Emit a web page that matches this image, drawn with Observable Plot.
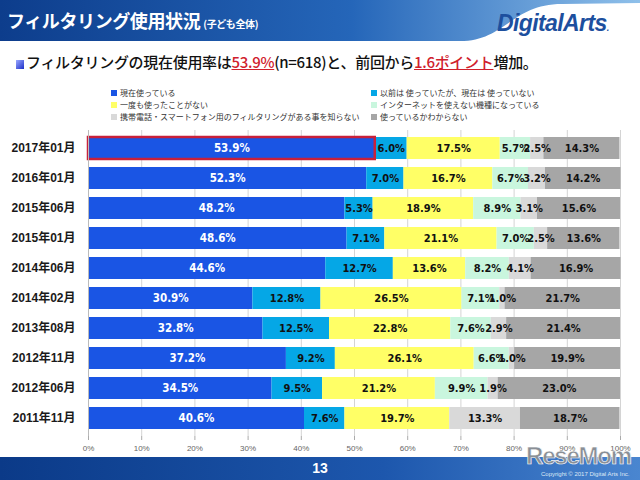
<!DOCTYPE html>
<html>
<head>
<meta charset="utf-8">
<script src="https://cdn.jsdelivr.net/npm/d3@7"></script>
<script src="https://cdn.jsdelivr.net/npm/@observablehq/plot@0.6"></script>
<style>
  html, body { margin: 0; padding: 0; background: #fff; }
  #page { position: relative; width: 640px; height: 480px; overflow: hidden; font-family: "Noto Sans CJK JP", "Liberation Sans", sans-serif; }
  #header { position: absolute; left: 0; top: 0; width: 640px; height: 44px; }
  #title { position: absolute; left: 7px; top: 7px; color: #fff; font-size: 18px; font-weight: bold; letter-spacing: -0.4px; white-space: nowrap; }
  #title small { font-size: 10px; font-weight: bold; margin-left: 3px; }
  #logo { position: absolute; left: 497px; top: 10px; color: #1d4f9e; font-family: "Liberation Sans", sans-serif; font-size: 23px; font-weight: bold; font-style: italic; letter-spacing: -0.6px; }
  #subtitle { position: absolute; left: 16px; top: 51px; font-size: 15px; font-weight: 500; color: #111; white-space: nowrap; letter-spacing: -0.3px; }
  #subtitle .sq { display: inline-block; width: 8px; height: 9px; background: linear-gradient(135deg, #9aa8ff, #1d2fc8); margin-right: 2px; vertical-align: -1px; }
  #subtitle .hl { color: #d0202c; text-decoration: underline; }
  #legend { position: absolute; left: 0; top: 87px; width: 640px; font-size: 8px; color: #333; }
  .li { position: absolute; white-space: nowrap; }
  .li i { display: inline-block; width: 6px; height: 6px; margin-right: 3px; vertical-align: 0px; }
  #chart { position: absolute; left: 0; top: 125px; }
  #footer { position: absolute; left: 0; top: 457px; width: 640px; height: 23px; background: linear-gradient(to right, #0b3a88, #1d57ad 60%, #4a86d0); }
  #pagenum { position: absolute; left: 0; width: 640px; top: 3px; text-align: center; color: #fff; font-size: 14px; font-weight: bold; font-family: "Liberation Sans", sans-serif; }
  #resemom { position: absolute; left: 526px; top: 442px; font-family: "Liberation Sans", sans-serif; font-size: 24px; font-weight: bold; color: #8a8f96; letter-spacing: -1.2px; -webkit-text-stroke: 0.6px #fff; }
  #copy { position: absolute; left: 541px; top: 471px; font-size: 6px; color: #dfe8f5; font-family: "Liberation Sans", sans-serif; white-space: nowrap; }
</style>
</head>
<body>
<div id="page">
  <svg id="header" width="640" height="44">
    <defs>
      <linearGradient id="hg" x1="0" x2="1" y1="0" y2="0">
        <stop offset="0" stop-color="#0d3d8c"/>
        <stop offset="0.55" stop-color="#2566b9"/>
        <stop offset="1" stop-color="#8fc0ea"/>
      </linearGradient>
    </defs>
    <rect x="0" y="0" width="640" height="41" fill="url(#hg)"/>
    <path d="M460,41 C505,41 512,4 562,4 L640,3 L640,44 L460,44 Z" fill="#fff"/>
  </svg>
  <div id="title">フィルタリング使用状況<small>(子ども全体)</small></div>
  <div id="logo">DigitalArts<span style="font-size:9px">.</span></div>
  <div id="subtitle"><span class="sq"></span>フィルタリングの現在使用率は<span class="hl">53.9%</span>(n=618)と、前回から<span class="hl">1.6ポイント</span>増加。</div>
  <div id="legend"></div>
  <div id="chart"></div>
  <div id="footer"><div id="pagenum">13</div></div>
  <div id="resemom">ReseMom</div>
  <div id="copy">Copyright © 2017 Digital Arts Inc.</div>
</div>
<script>
const periods = ["2017年01月","2016年01月","2015年06月","2015年01月","2014年06月","2014年02月","2013年08月","2012年11月","2012年06月","2011年11月"];
const categories = [
  "現在使っている",
  "以前は 使っていたが、現在は 使っていない",
  "一度も使ったことがない",
  "インターネットを使えない機種になっている",
  "携帯電話・スマートフォン用のフィルタリングがある事を知らない",
  "使っているかわからない"
];
const colors = ["#1a55e4", "#05a7e6", "#ffff66", "#c9f6de", "#d9d9d9", "#a6a6a6"];
const current    = [53.9, 52.3, 48.2, 48.6, 44.6, 30.9, 32.8, 37.2, 34.5, 40.6];
const previous   = [6.0, 7.0, 5.3, 7.1, 12.7, 12.8, 12.5, 9.2, 9.5, 7.6];
const never      = [17.5, 16.7, 18.9, 21.1, 13.6, 26.5, 22.8, 26.1, 21.2, 19.7];
const noInternet = [5.7, 6.7, 8.9, 7.0, 8.2, 7.1, 7.6, 6.6, 9.9, null];
const unaware    = [2.5, 3.2, 3.1, 2.5, 4.1, 1.0, 2.9, 1.0, 1.9, 13.3];
const unknown    = [14.3, 14.2, 15.6, 13.6, 16.9, 21.7, 21.4, 19.9, 23.0, 18.7];
const xTicks = [0, 10, 20, 30, 40, 50, 60, 70, 80, 90, 100];
const highlightPeriod = "2017年01月";

const series = [current, previous, never, noInternet, unaware, unknown];
const data = [];
periods.forEach((p, i) => {
  series.forEach((s, k) => {
    if (s[i] != null) data.push({period: p, category: categories[k], value: s[i]});
  });
});

// legend (two columns, three rows)
const legend = document.getElementById("legend");
const legendPos = [[0,0],[1,0],[0,1],[1,1],[0,2],[1,2]];
categories.forEach((c, k) => {
  const [col, row] = legendPos[k];
  const el = document.createElement("div");
  el.className = "li";
  el.style.left = (col === 0 ? 111 : 371) + "px";
  el.style.top = (row * 12) + "px";
  el.innerHTML = `<i style="background:${colors[k]}"></i>${c}`;
  legend.appendChild(el);
});

const labelFont = "Liberation Sans, Noto Sans CJK JP, sans-serif";
const narrowFont = "DejaVu Sans Condensed, Liberation Sans, sans-serif";
const chart = Plot.plot({
  width: 640,
  height: 330,
  marginLeft: 88,
  marginRight: 20,
  marginTop: 5,
  marginBottom: 19,
  style: {fontFamily: labelFont, background: "transparent"},
  x: {domain: [0, 100], ticks: xTicks, tickFormat: d => d + "%", label: null, tickSize: 4},
  y: {domain: periods, paddingInner: 0.28, paddingOuter: 0.14, label: null, tickSize: 0, tickPadding: 13},
  color: {domain: categories, range: colors},
  marks: [
    Plot.ruleX(xTicks, {stroke: "#d4d4d4", strokeWidth: 1}),
    Plot.barX(data, Plot.stackX({x: "value", y: "period", fill: "category"})),
    Plot.barX(data.filter(d => d.period === highlightPeriod && d.category === categories[0]),
      {x1: 0, x2: "value", y: "period", fill: "none", stroke: "#c8203a", strokeWidth: 2.5}),
    Plot.text(data, Plot.stackX({
      x: "value", y: "period", z: "category",
      text: d => d.category === categories[0] ? null : d.value.toFixed(1) + "%",
      fill: "#111", fontSize: 11, fontWeight: "bold", fontFamily: narrowFont, letterSpacing: "-0.2px"
    })),
    Plot.text(data.filter(d => d.category === categories[0]), Plot.stackX({
      x: "value", y: "period", z: "category",
      text: d => d.value.toFixed(1) + "%",
      fill: "#fff", fontSize: 11.5, fontWeight: "bold", fontFamily: narrowFont
    })),
    Plot.ruleX([0], {stroke: "#bbb"}),
    Plot.axisX({ticks: xTicks, tickFormat: d => d + "%", fontSize: 8, fill: "#666", stroke: "#aaa", tickSize: 4, label: null}),
    Plot.axisY({tickSize: 0, tickPadding: 13, fontSize: 12, fontWeight: "bold", fill: "#1a1a1a", label: null})
  ]
});
document.getElementById("chart").appendChild(chart);
</script>
</body>
</html>
